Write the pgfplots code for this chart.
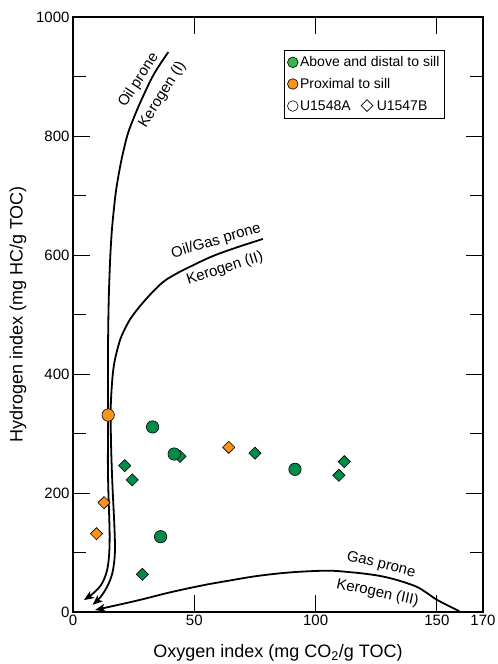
\documentclass[border=0pt]{standalone}
\usepackage{fontspec}
\setmainfont{Liberation Sans}
\newfontfamily\dejavu{DejaVu Sans}
\usepackage{pgfplots}
\pgfplotsset{compat=1.18}
\usetikzlibrary{arrows.meta}
\definecolor{grn}{RGB}{0,140,72}
\definecolor{lgrn}{RGB}{57,181,74}
\definecolor{org}{RGB}{247,148,29}
\newcommand{\curvefont}{\fontsize{15bp}{17bp}\selectfont}
\begin{document}
\begin{tikzpicture}[x=1bp,y=1bp]
\path[use as bounding box] (-73,-52) rectangle (425,612);
\begin{axis}[
  at={(0,0)}, anchor=south west,
  scale only axis, width=410bp, height=595bp,
  xmin=0, xmax=169, ymin=0, ymax=1000,
  xtick={0,50,100,150}, extra x ticks={169}, extra x tick labels={170},
  extra x tick style={major tick length=0pt},
  ytick={0,200,...,1000}, minor ytick={100,300,...,900},
  tick align=inside, major tick length=17bp, minor tick length=13bp,
  tick style={black, line width=0.9bp},
  axis line style={line width=1.1bp},
  /pgf/number format/assume math mode=true,
  /pgf/number format/set thousands separator={},
  ticklabel style={font=\fontsize{15bp}{18bp}\selectfont},
  xlabel={Oxygen index (mg CO\textsubscript{2}/g TOC)},
  ylabel={Hydrogen index (mg HC/g TOC)},
  xlabel style={font=\fontsize{18bp}{21bp}\selectfont, at={(axis description cs:0.5,-0.0773)}, anchor=base},
  ylabel style={font=\fontsize{18bp}{21bp}\selectfont, at={(axis description cs:-0.134,0.5)}, anchor=center},
  legend style={at={(rel axis cs:0.515,0.945)}, anchor=north west, draw=black, line width=0.7bp,
    font=\fontsize{14bp}{16bp}\selectfont, inner xsep=3bp, inner ysep=4.5bp, row sep=6bp},
  legend cell align=left,
  clip=false,
]
\addlegendimage{only marks, mark=*, mark size=5.3bp, mark options={fill=lgrn, draw=black, line width=0.6bp}}
\addlegendentry{Above and distal to sill}
\addlegendimage{only marks, mark=*, mark size=5.3bp, mark options={fill=org, draw=black, line width=0.6bp}}
\addlegendentry{Proximal to sill}
\addlegendimage{only marks, mark=o, mark size=5.3bp, mark options={draw=black, line width=0.6bp}}
\addlegendentry{U1548A\hspace{10bp}{\dejavu\fontsize{17bp}{15bp}\selectfont ◇}\hspace{3bp}U1547B}

% Kerogen I
\addplot[forget plot, black, line width=1.8bp, smooth, tension=0.6, -{Stealth[length=10bp,width=8bp,inset=2.5bp]}] coordinates {
(39.3,941) (33.5,905) (28.8,866) (25.5,835) (22.7,805) (20.8,775) (19.4,748) (17.8,710) (16.8,675) (16.0,640) (15.4,600) (15.0,560) (14.7,520) (14.5,470) (14.4,420) (14.4,380) (14.5,330) (14.4,280) (14.4,240) (14.6,200) (15,150) (15.1,120) (14.8,92) (13.9,68) (11.8,47) (8.5,32) (4.5,20)};
% Kerogen II
\addplot[forget plot, black, line width=1.8bp, smooth, tension=0.6, -{Stealth[length=10bp,width=8bp,inset=2.5bp]}] coordinates {
(78.3,627) (68,613.4) (57.7,598.3) (48.2,580.2) (42,567.2) (36.5,552.4) (29.7,524) (24.2,496) (21.3,475) (19.4,457) (17.6,430) (16.6,407) (16,380) (15.6,350) (15.5,330) (15.7,280) (16,240) (16.4,200) (17,150) (17.3,110) (17,85) (16,62) (14,42) (11.3,25) (8.1,12)};
% Kerogen III
\addplot[forget plot, black, line width=1.8bp, smooth, tension=0.6, -{Stealth[length=10bp,width=8bp,inset=2.5bp]}] coordinates {
(159.2,1.5) (155,10) (149.8,21) (145.5,33) (141.6,42.5) (135,52) (127.9,59.5) (121,64) (114,67) (105.9,69.4) (95,68) (85.3,65) (75,60) (64.7,53) (53.7,45) (40,33) (26.2,19) (9.1,3.4)};

% green diamonds (U1547B)
\addplot[forget plot, only marks, mark=square*, mark size=4.3bp, mark options={rotate=45, fill=grn, draw=black, line width=0.6bp}] coordinates {
(21.3,246) (24.4,222) (44.1,261.6) (28.6,63.3) (75,267) (111.8,252.6) (109.6,229.7)};
% orange diamonds (U1547B)
\addplot[forget plot, only marks, mark=square*, mark size=4.3bp, mark options={rotate=45, fill=org, draw=black, line width=0.6bp}] coordinates {
(12.8,183.7) (9.7,131.6) (64.2,276.8)};
% green circles (U1548A)
\addplot[forget plot, only marks, mark=*, mark size=6.2bp, mark options={fill=grn, draw=black, line width=0.6bp}] coordinates {
(32.8,311) (41.7,265.5) (36.1,126.6) (91.5,239.8)};
% orange circle (U1548A)
\addplot[forget plot, only marks, mark=*, mark size=6.2bp, mark options={fill=org, draw=black, line width=0.6bp}] coordinates {
(14.5,331)};

\node[font=\curvefont, inner sep=0pt, rotate=57] at (axis cs:27.1,893.5) {Oil prone};
\node[font=\curvefont, inner sep=0pt, rotate=58] at (axis cs:36.9,869.5) {Kerogen (I)};
\node[font=\curvefont, inner sep=0pt, rotate=16.5] at (axis cs:59.0,623) {Oil/Gas prone};
\node[font=\curvefont, inner sep=0pt, rotate=17.5] at (axis cs:62.6,577) {Kerogen (II)};
\node[font=\curvefont, inner sep=0pt, rotate=-14] at (axis cs:127,79) {Gas prone};
\node[font=\curvefont, inner sep=0pt, rotate=-12] at (axis cs:125.5,32) {Kerogen (III)};
\end{axis}
\end{tikzpicture}
\end{document}
